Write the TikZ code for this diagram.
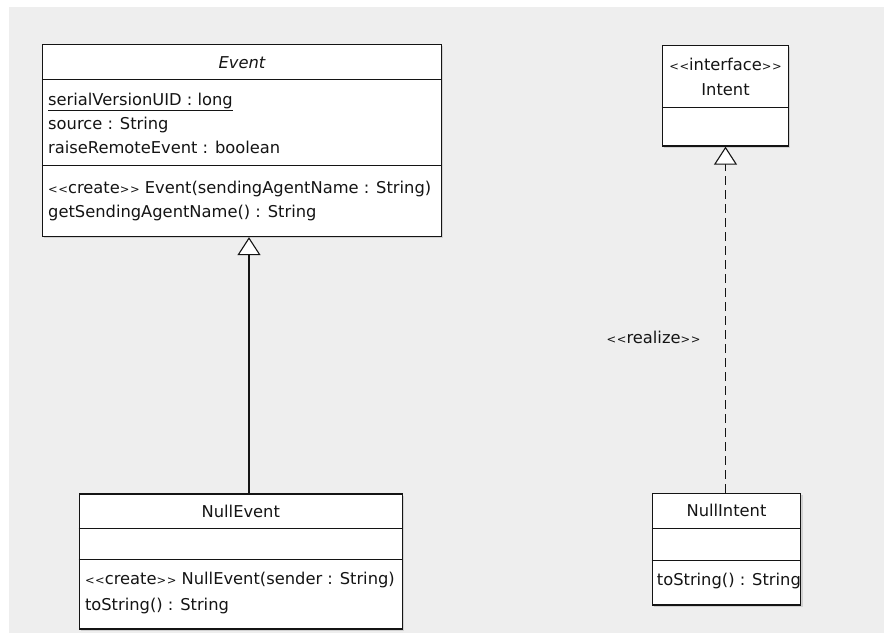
\documentclass[tikz,border=0pt]{standalone}
\usepackage{fontspec}
\setmainfont{DejaVu Sans}[Ligatures=TeXOff]
\usetikzlibrary{arrows.meta,shadows,calc}
\definecolor{canvas}{HTML}{EEEEEE}
\definecolor{ink}{HTML}{141414}
% small guillemet-like stereotype brackets
\newcommand\stereoL{{\fontsize{11.5pt}{11.5pt}\selectfont<\kern0.6pt<}}
\newcommand\stereoR{{\fontsize{11.5pt}{11.5pt}\selectfont>\kern0.6pt>}}

\begin{document}
\begin{tikzpicture}[x=1pt,y=-1pt,
  font=\fontsize{16.3pt}{19pt}\selectfont,
  classbox/.style={draw=ink, line width=1.3pt, fill=white, inner sep=0pt,
    drop shadow={shadow xshift=1.8pt, shadow yshift=-1.8pt, fill=black, opacity=0.12}},
  divider/.style={draw=ink, line width=1.1pt},
  txt/.style={inner sep=0pt, text height=11.8pt, text depth=0pt, text=ink},
  member/.style={txt, anchor=west},
  title/.style={txt, anchor=center},
  generalize/.style={draw=ink, line width=1.1pt,
    -{Triangle[open, fill=white, length=18pt, width=23pt]}},
  realize/.style={generalize, dash pattern=on 9pt off 5pt},
]
\useasboundingbox (0,0) rectangle (884,633);
\fill[canvas] (9,7) rectangle (884,633);

% ---- Event ----
\node[classbox, minimum width=399pt, minimum height=192pt] (event) at (242,140.5) {};
\draw[divider] ($(event.north west)+(0,36)$) -- ($(event.north east)+(0,36)$);
\draw[divider] ($(event.north west)+(0,122)$) -- ($(event.north east)+(0,122)$);
\node[title] (eventname) at (242,63) {\itshape Event};
\node[member] (eventattr1) at (48,100) {\underline{serialVersionUID : long}};
\node[member] (eventattr2) at (48,124) {source : String};
\node[member] (eventattr3) at (48,148) {raiseRemoteEvent : boolean};
\node[member] (eventop1) at (48,188) {\stereoL create\stereoR\ Event(sendingAgentName : String)};
\node[member] (eventop2) at (48,212) {getSendingAgentName() : String};

% ---- Intent ----
\node[classbox, minimum width=126pt, minimum height=100.5pt] (intent) at (725.5,95.75) {};
\draw[divider] ($(intent.north west)+(0,62.8)$) -- ($(intent.north east)+(0,62.8)$);
\node[title] (intentstereo) at (725.5,64.3) {\stereoL interface\stereoR};
\node[title] (intentname) at (725.5,90) {Intent};

% ---- NullEvent ----
\node[classbox, minimum width=323pt, minimum height=135pt] (nullevent) at (240.8,561.5) {};
\draw[divider] ($(nullevent.north west)+(0,35)$) -- ($(nullevent.north east)+(0,35)$);
\draw[divider] ($(nullevent.north west)+(0,66.5)$) -- ($(nullevent.north east)+(0,66.5)$);
\node[title] (nulleventname) at (240.8,511.7) {NullEvent};
\node[member] (nulleventop1) at (84.8,579) {\stereoL create\stereoR\ NullEvent(sender : String)};
\node[member] (nulleventop2) at (84.8,604.3) {toString() : String};

% ---- NullIntent ----
\node[classbox, minimum width=148.4pt, minimum height=111.7pt] (nullintent) at (726.5,549.2) {};
\draw[divider] ($(nullintent.north west)+(0,35.7)$) -- ($(nullintent.north east)+(0,35.7)$);
\draw[divider] ($(nullintent.north west)+(0,67.4)$) -- ($(nullintent.north east)+(0,67.4)$);
\node[title] (nullintentname) at (726.5,510.7) {NullIntent};
\node[member] (nullintentop1) at (656.7,580) {toString() : String};

% ---- relations ----
\coordinate (genx) at (249,0);
\draw[generalize] (nullevent.north -| genx) -- (event.south -| genx);
\draw[realize] (nullintent.north -| intent.south) -- (intent.south)
  node[txt, pos=0.449, left=24.5pt] (realizelabel) {\stereoL realize\stereoR};
\end{tikzpicture}
\end{document}
